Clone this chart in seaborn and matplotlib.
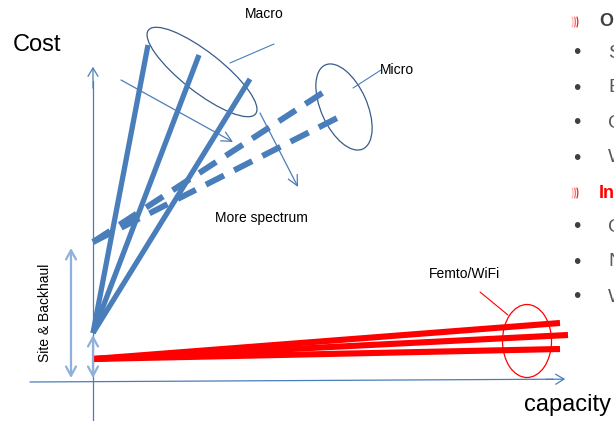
import matplotlib
matplotlib.use("Agg")
import matplotlib.pyplot as plt
from matplotlib.patches import Ellipse, Arc
import numpy as np
import pandas as pd
import seaborn as sns

# Cost-versus-capacity curves for each cell type (capacity on x, cost on y)
macro_start = (0, 48)
macro_ends_x = [55, 106, 157]
macro_ends_y = [336, 326, 302]

micro_start = (0, 139)
micro_ends_x = [237, 254]
micro_ends_y = [293, 268]

femto_start = (0, 22)
femto_ends_x = [467, 475, 467]
femto_ends_y = [58, 46, 32]

site_backhaul_span = (3, 133)
femto_site_span = (3, 46)

labels = {
    "cost": "Cost",
    "capacity": "capacity",
    "macro": "Macro",
    "micro": "Micro",
    "femto": "Femto/WiFi",
    "spectrum": "More spectrum",
    "site": "Site & Backhaul",
}

# Slide text beside the chart
side_headings = ["O", "In"]
side_bullets = ["S", "E", "C", "W", "C", "N", "W"]

BLUE = "#4A7EBB"
BLUE_DARK = "#385D8A"
BLUE_LIGHT = "#8EB0DA"
RED = "#FF0000"


def fan(start, ends_x, ends_y, name):
    rows = []
    for i, (ex, ey) in enumerate(zip(ends_x, ends_y)):
        rows.append({"line": f"{name}{i}", "order": 0, "x": start[0], "y": start[1]})
        rows.append({"line": f"{name}{i}", "order": 1, "x": ex, "y": ey})
    return pd.DataFrame(rows)


sns.set_theme(style="white")
plt.rcParams["font.family"] = ["Liberation Sans", "DejaVu Sans"]

fig = plt.figure(figsize=(6.14, 4.21), dpi=100)
ax = fig.add_axes([0, 0, 1, 1])
ax.set_xlim(-93, 521)
ax.set_ylim(-40, 381)
ax.set_axis_off()

# Axes of the diagram
ax.plot([0, 0], [-40, 300], color=BLUE, lw=0.9)
ax.annotate("", xy=(0, 317), xytext=(0, 290),
            arrowprops=dict(arrowstyle="->,head_length=0.5,head_width=0.3", color=BLUE, lw=0.9))
ax.plot([-63, 460], [-1, 1.8], color=BLUE, lw=0.9)
ax.annotate("", xy=(475, 2), xytext=(450, 1.5),
            arrowprops=dict(arrowstyle="->,head_length=0.5,head_width=0.3", color=BLUE, lw=0.9))

# Macro fan
macro = fan(macro_start, macro_ends_x, macro_ends_y, "macro")
sns.lineplot(data=macro, x="x", y="y", units="line", estimator=None, sort=False,
             color=BLUE, lw=3.8, solid_capstyle="butt", ax=ax, legend=False)

# Micro fan (dashed)
micro = fan(micro_start, micro_ends_x, micro_ends_y, "micro")
sns.lineplot(data=micro, x="x", y="y", units="line", estimator=None, sort=False,
             color=BLUE, lw=4.3, linestyle=(0, (3.4, 1.9)), dash_capstyle="butt",
             ax=ax, legend=False)

# Femto / WiFi fan
femto = fan(femto_start, femto_ends_x, femto_ends_y, "femto")
sns.lineplot(data=femto, x="x", y="y", units="line", estimator=None, sort=False,
             color=RED, lw=4.4, solid_capstyle="butt", ax=ax, legend=False)

# Site & Backhaul spans
two_head = dict(arrowstyle="<->,head_length=0.55,head_width=0.3", lw=1.6, color=BLUE_LIGHT,
                shrinkA=0, shrinkB=0)
ax.annotate("", xy=(-22, site_backhaul_span[0]), xytext=(-22, site_backhaul_span[1]),
            arrowprops=two_head)
ax.annotate("", xy=(0, femto_site_span[0]), xytext=(0, femto_site_span[1]),
            arrowprops=two_head)

# "More spectrum" arrows
one_head = dict(arrowstyle="->,head_length=0.6,head_width=0.3", lw=0.9, color=BLUE,
                shrinkA=0, shrinkB=0)
ax.annotate("", xy=(140, 239), xytext=(28, 301), arrowprops=one_head)
ax.annotate("", xy=(205, 194), xytext=(167, 268), arrowprops=one_head)

# Group ellipses and their leaders
ax.add_patch(Ellipse((109, 309), 136, 40, angle=-38, fill=False, ec=BLUE_DARK, lw=0.9))
ax.add_patch(Ellipse((251, 274), 92, 46, angle=114, fill=False, ec=BLUE_DARK, lw=0.9))
ax.add_patch(Ellipse((434, 40), 49, 73, angle=0, fill=False, ec=RED, lw=0.9))
ax.plot([137, 181], [318, 337], color=BLUE, lw=0.8)
ax.plot([260, 288], [293, 311], color=BLUE, lw=0.8)
ax.plot([387, 415], [89, 66], color=RED, lw=0.8)

# Labels
ax.text(-80, 336, labels["cost"], fontsize=17, ha="left", va="center", color="black")
ax.text(431, -24, labels["capacity"], fontsize=17, ha="left", va="center", color="black")
ax.text(171, 367, labels["macro"], fontsize=10, ha="center", va="center", color="black")
ax.text(287, 311, labels["micro"], fontsize=10, ha="left", va="center", color="black")
ax.text(168, 163, labels["spectrum"], fontsize=10, ha="center", va="center", color="black")
ax.text(371, 107, labels["femto"], fontsize=10, ha="center", va="center", color="black")
ax.text(-48, 68, labels["site"], fontsize=10, ha="center", va="center", rotation=90,
        color="black")

# Slide text at the right edge
head_y = [359, 188]
bullet_y = [328, 293, 258, 223, 154, 119, 84]
for j, (txt, y) in enumerate(zip(side_headings, head_y)):
    for k in range(3):
        ax.add_patch(Arc((477 + k * 2.4, y), 6, 14, theta1=-70, theta2=70,
                         color=RED, lw=0.9, alpha=0.3 + 0.3 * k))
    ax.text(506, y, txt, fontsize=13, fontweight="bold", ha="left", va="center",
            color="#404040" if j == 0 else RED)
for txt, y in zip(side_bullets, bullet_y):
    ax.text(484, y, "\u2022", fontsize=15, ha="center", va="center", color="#404040")
    ax.text(515, y, txt, fontsize=14, ha="left", va="center", color="#595959")

fig.savefig("out.png", dpi=100)
